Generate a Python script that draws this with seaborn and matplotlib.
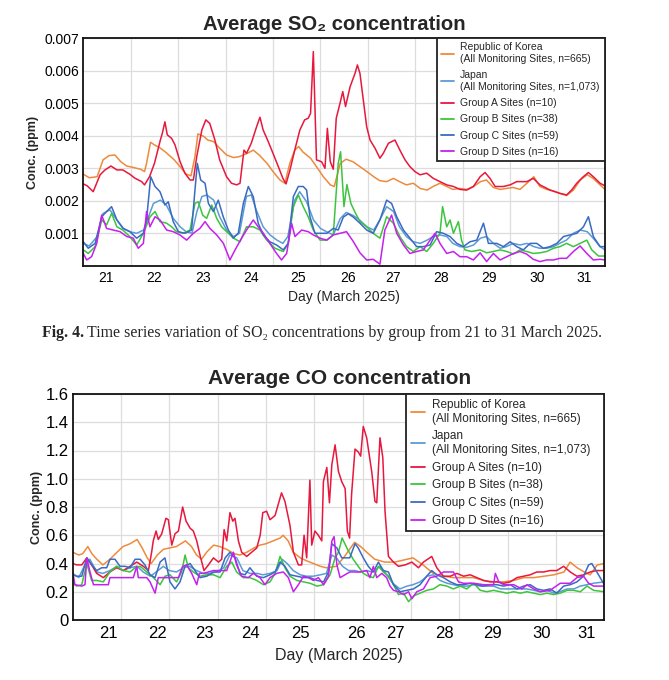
import matplotlib
matplotlib.use("Agg")
import matplotlib.pyplot as plt
import seaborn as sns

# ---- labels / categories ----
series_names = [
    "Republic of Korea\n(All Monitoring Sites, n=665)",
    "Japan\n(All Monitoring Sites, n=1,073)",
    "Group A Sites (n=10)",
    "Group B Sites (n=38)",
    "Group C Sites (n=59)",
    "Group D Sites (n=16)",
]
series_colors = ["#EE8A3C", "#5B9BD5", "#E8173D", "#3DC43D", "#3A6BC2", "#C520EE"]
day_labels = [str(d) for d in range(21, 32)]
day_bounds = [24 * i for i in range(1, 11)]          # midnight grid lines (hours since 21 Mar 00h)
so2_label_hours = [11.5, 36, 60.5, 85, 108.5, 134, 156.5, 181, 205.5, 229.5, 253.5]
co_label_hours = [17.5, 42, 65.5, 88.5, 113, 141, 160.5, 184.5, 208.5, 233, 255]

# ---- SO2 (ppm), (hour, value) ----
so2_korea = [(0, 0.00282), (3, 0.00271), (7, 0.00274), (10, 0.00326), (13, 0.00339), (16, 0.00341), (19, 0.00320),
             (22, 0.00307), (25, 0.00303), (29, 0.00297), (31, 0.00290), (32, 0.00315), (34, 0.00380), (36, 0.00372),
             (39, 0.00362), (42, 0.00348), (46, 0.00326), (49, 0.00305), (52, 0.00282), (54.5, 0.00277), (56.5, 0.00336),
             (58, 0.00406), (61, 0.00398), (63, 0.00387), (66, 0.00382), (69, 0.00362), (72.5, 0.00341), (76, 0.00333),
             (79, 0.00336), (83, 0.00346), (86, 0.00356), (89, 0.00341), (93, 0.00315), (96, 0.00290), (99.5, 0.00264),
             (102, 0.00254), (104.5, 0.00315), (107, 0.00356), (109, 0.00367), (111, 0.00351), (115, 0.00331),
             (118, 0.00305), (121.5, 0.00274), (125, 0.00249), (127, 0.00244), (130, 0.00315), (133, 0.00328),
             (136.5, 0.00320), (140, 0.00305), (143.5, 0.00290), (147, 0.00274), (150, 0.00262), (153.5, 0.00259),
             (157, 0.00269), (160, 0.00259), (163.5, 0.00249), (167, 0.00254), (170.5, 0.00238), (174, 0.00233),
             (177, 0.00244), (180.5, 0.00254), (184, 0.00244), (187, 0.00235), (190.5, 0.00238), (194, 0.00235),
             (197.5, 0.00244), (201, 0.00259), (204, 0.00264), (207.5, 0.00241), (211, 0.00235), (214, 0.00238),
             (217.5, 0.00241), (221, 0.00235), (224.5, 0.00254), (228, 0.00274), (231, 0.00244), (234.5, 0.00235),
             (238, 0.00230), (241, 0.00223), (244.5, 0.00216), (248, 0.00233), (251.5, 0.00264), (255, 0.00280),
             (258, 0.00269), (261.5, 0.00249), (264, 0.00235)]
so2_japan = [(0, 0.00069), (3, 0.00061), (7, 0.00090), (10, 0.00161), (13.5, 0.00172), (17, 0.00141), (20, 0.00115),
             (23.5, 0.00105), (27, 0.00100), (30.5, 0.00110), (33, 0.00151), (35.5, 0.00192), (39, 0.00202),
             (42, 0.00187), (45.5, 0.00146), (49, 0.00120), (52, 0.00105), (55, 0.00100), (57.5, 0.00167),
             (60, 0.00213), (62.5, 0.00218), (66, 0.00202), (69, 0.00151), (72.5, 0.00110), (76, 0.00090),
             (79, 0.00100), (82.5, 0.00213), (85, 0.00218), (87.5, 0.00172), (91, 0.00120), (94.5, 0.00095),
             (98, 0.00079), (101, 0.00069), (103.5, 0.00090), (107, 0.00202), (109.5, 0.00228), (113, 0.00197),
             (116.5, 0.00141), (120, 0.00115), (123, 0.00105), (126.5, 0.00095), (130, 0.00145), (133, 0.00164),
             (136.5, 0.00155), (140, 0.00140), (143.5, 0.00120), (147, 0.00110), (150, 0.00141), (153.5, 0.00182),
             (157, 0.00167), (160, 0.00120), (163.5, 0.00090), (167, 0.00074), (170.5, 0.00069), (174, 0.00079),
             (177, 0.00090), (180.5, 0.00095), (184, 0.00090), (187, 0.00069), (190.5, 0.00059), (194, 0.00057),
             (197.5, 0.00064), (201, 0.00085), (204, 0.00090), (207.5, 0.00069), (211, 0.00054), (214, 0.00059),
             (217.5, 0.00069), (221, 0.00064), (224.5, 0.00069), (228, 0.00059), (231, 0.00054), (234.5, 0.00054),
             (238, 0.00059), (241, 0.00069), (244.5, 0.00079), (248, 0.00100), (251.5, 0.00110), (255, 0.00105),
             (258, 0.00085), (261.5, 0.00059), (264, 0.00049)]
so2_group_a = [(0, 0.00252), (2, 0.00246), (5, 0.00228), (8.5, 0.00280), (11, 0.00295), (14, 0.00307), (17, 0.00295),
               (20, 0.00295), (23.5, 0.00282), (26, 0.00270), (29.5, 0.00259), (31, 0.00249), (33.5, 0.00274),
               (36, 0.00315), (39, 0.00387), (40, 0.00408), (41.3, 0.00443), (42.5, 0.00403), (44.7, 0.00392),
               (46.4, 0.00372), (49, 0.00320), (51.4, 0.00285), (54, 0.00264), (55.7, 0.00264), (57.4, 0.00336),
               (60, 0.00418), (62, 0.00449), (64, 0.00438), (66.6, 0.00387), (69, 0.00326), (72.5, 0.00274),
               (75, 0.00254), (77.6, 0.00249), (79.3, 0.00254), (81.3, 0.00356), (82.6, 0.00346), (85, 0.00377),
               (87.7, 0.00428), (89.4, 0.00457), (91, 0.00418), (93.6, 0.00382), (96, 0.00346), (98.7, 0.00305),
               (101, 0.00269), (102.6, 0.00252), (104.6, 0.00295), (107, 0.00356), (109.6, 0.00418), (112, 0.00449),
               (113.8, 0.00454), (115, 0.00469), (116.4, 0.00659), (118, 0.00326), (120.6, 0.00320), (122.3, 0.00300),
               (123.5, 0.00423), (125, 0.00320), (126.5, 0.00297), (128, 0.00454), (129.9, 0.00500), (131.3, 0.00536),
               (132.7, 0.00490), (135, 0.00551), (137.5, 0.00592), (138.7, 0.00618), (140, 0.00592), (141.7, 0.00510),
               (143.4, 0.00428), (145.1, 0.00387), (147.6, 0.00362), (150.1, 0.00331), (151.8, 0.00346),
               (154.4, 0.00377), (157.7, 0.00387), (160.2, 0.00356), (162.8, 0.00326), (165.3, 0.00305),
               (167.8, 0.00290), (170.4, 0.00280), (173.8, 0.00285), (177.1, 0.00269), (180.5, 0.00259),
               (183.9, 0.00249), (187.3, 0.00244), (190.6, 0.00235), (194, 0.00233), (197.4, 0.00244),
               (200.8, 0.00274), (203.3, 0.00287), (205.8, 0.00269), (208.4, 0.00244), (212.6, 0.00244),
               (216, 0.00249), (219.3, 0.00259), (224.4, 0.00259), (227.7, 0.00269), (231.1, 0.00249),
               (236.2, 0.00233), (241.2, 0.00223), (244.6, 0.00218), (247.1, 0.00233), (249.7, 0.00254),
               (253, 0.00274), (255.6, 0.00287), (258.1, 0.00274), (261.5, 0.00254), (264, 0.00246)]
so2_group_b = [(0, 0.00049), (2.5, 0.00038), (6, 0.00059), (9.3, 0.00141), (11.8, 0.00126), (14.3, 0.00161),
               (17, 0.00120), (20, 0.00110), (23.5, 0.00090), (27, 0.00064), (30.4, 0.00100), (33.8, 0.00151),
               (36.3, 0.00167), (38.8, 0.00136), (42.2, 0.00131), (44.7, 0.00120), (47.2, 0.00105), (50.6, 0.00100),
               (54, 0.00110), (56.5, 0.00192), (58.2, 0.00197), (60.4, 0.00156), (62.4, 0.00146), (65, 0.00187),
               (67.5, 0.00146), (70, 0.00120), (73.4, 0.00100), (76, 0.00085), (79.3, 0.00074), (82.6, 0.00120),
               (86, 0.00120), (89.4, 0.00110), (92.8, 0.00079), (97, 0.00054), (101.2, 0.00044), (103.7, 0.00069),
               (106.3, 0.00182), (108.8, 0.00218), (111.3, 0.00182), (113.8, 0.00151), (116.4, 0.00110),
               (119.8, 0.00079), (123.2, 0.00079), (126.5, 0.00095), (129, 0.00315), (130.2, 0.00351),
               (131.9, 0.00182), (133.4, 0.00250), (135.4, 0.00192), (137.9, 0.00160), (140, 0.00136),
               (143.4, 0.00120), (146.7, 0.00100), (150.1, 0.00085), (153.5, 0.00151), (156.9, 0.00131),
               (160.2, 0.00090), (163.6, 0.00059), (167, 0.00044), (170.4, 0.00059), (173.8, 0.00044),
               (177.1, 0.00069), (180.5, 0.00100), (181.8, 0.00182), (183.9, 0.00120), (185.6, 0.00141),
               (187.3, 0.00100), (189.8, 0.00136), (191.4, 0.00079), (193.1, 0.00049), (196.5, 0.00044),
               (200.8, 0.00049), (204.1, 0.00040), (207.5, 0.00044), (210.9, 0.00049), (214.3, 0.00044),
               (217.7, 0.00036), (221, 0.00049), (224.4, 0.00044), (227.7, 0.00038), (231.1, 0.00040),
               (234.5, 0.00044), (237.9, 0.00054), (241.2, 0.00059), (244.6, 0.00069), (248, 0.00059),
               (251.4, 0.00069), (254.8, 0.00079), (257.3, 0.00049), (260.7, 0.00030), (264, 0.00030)]
so2_group_c = [(0, 0.00074), (2.5, 0.00054), (6, 0.00069), (9.3, 0.00151), (11.8, 0.00167), (14.3, 0.00182),
               (17, 0.00141), (20.3, 0.00115), (23.6, 0.00105), (27, 0.00085), (30.4, 0.00100), (32, 0.00141),
               (34.1, 0.00274), (36.3, 0.00244), (38.8, 0.00228), (41.3, 0.00187), (43, 0.00197), (45.5, 0.00136),
               (48.1, 0.00105), (51.4, 0.00100), (54.8, 0.00110), (56.5, 0.00233), (57.7, 0.00315), (59.4, 0.00264),
               (61.6, 0.00254), (63.3, 0.00192), (65.8, 0.00167), (68.3, 0.00202), (70.8, 0.00151), (73.4, 0.00110),
               (75.9, 0.00085), (78.4, 0.00100), (81, 0.00192), (83.5, 0.00244), (86, 0.00213), (88.5, 0.00131),
               (91.1, 0.00095), (94.4, 0.00074), (97.8, 0.00064), (101.2, 0.00049), (103.7, 0.00069),
               (106.3, 0.00213), (108.8, 0.00244), (111.3, 0.00244), (113, 0.00233), (114.7, 0.00151),
               (117.2, 0.00100), (119.8, 0.00100), (123.2, 0.00100), (126.5, 0.00115), (129, 0.00110),
               (131.6, 0.00150), (134.1, 0.00160), (136.6, 0.00150), (140, 0.00131), (143.4, 0.00110),
               (146.7, 0.00100), (150.1, 0.00141), (153.5, 0.00202), (156, 0.00192), (158.6, 0.00151),
               (162, 0.00110), (165.3, 0.00085), (168.7, 0.00059), (172.1, 0.00059), (175.5, 0.00064),
               (178.8, 0.00105), (182.2, 0.00100), (185.6, 0.00090), (189, 0.00069), (192.3, 0.00059),
               (195.7, 0.00074), (199.1, 0.00079), (202.5, 0.00131), (205, 0.00069), (209.2, 0.00069),
               (212.6, 0.00059), (216, 0.00074), (219.3, 0.00059), (222.7, 0.00049), (226.1, 0.00069),
               (229.5, 0.00069), (232.8, 0.00054), (236.2, 0.00059), (239.6, 0.00069), (243, 0.00090),
               (246.3, 0.00095), (249.7, 0.00100), (253.1, 0.00120), (255.6, 0.00151), (258.1, 0.00090),
               (261.5, 0.00059), (264, 0.00059)]
so2_group_d = [(0, 0.00038), (1.7, 0.00018), (4.2, 0.00028), (6.8, 0.00069), (9.3, 0.00156), (11.8, 0.00115),
               (15.2, 0.00110), (18.6, 0.00105), (22, 0.00090), (25.3, 0.00085), (27.8, 0.00054), (30.4, 0.00069),
               (32, 0.00167), (33.7, 0.00120), (36.3, 0.00151), (38.8, 0.00141), (42.2, 0.00110), (45.5, 0.00105),
               (48.9, 0.00095), (52.3, 0.00079), (55.7, 0.00100), (59, 0.00115), (61.6, 0.00136), (64.1, 0.00115),
               (67.5, 0.00095), (70.9, 0.00069), (74.2, 0.00018), (76.8, 0.00049), (80.1, 0.00085), (82.6, 0.00110),
               (86, 0.00141), (88.5, 0.00120), (91.1, 0.00100), (94.4, 0.00069), (97.8, 0.00038), (100.3, 0.00018),
               (102.9, 0.00038), (105.4, 0.00131), (107.1, 0.00090), (110.5, 0.00110), (113.8, 0.00105),
               (116.4, 0.00095), (119.8, 0.00085), (123.2, 0.00079), (126.5, 0.00095), (129.9, 0.00100),
               (133.2, 0.00105), (136.6, 0.00075), (140, 0.00040), (143.4, 0.00018), (146.7, 0.00020),
               (150.1, 0.00005), (152.6, 0.00110), (156, 0.00156), (158.6, 0.00100), (162, 0.00064),
               (165.3, 0.00038), (168.7, 0.00044), (172.1, 0.00049), (175.5, 0.00079), (178, 0.00100),
               (180.5, 0.00069), (183.9, 0.00038), (187.3, 0.00044), (190.6, 0.00028), (194, 0.00028),
               (197.4, 0.00018), (200.8, 0.00040), (204.1, 0.00013), (207.5, 0.00038), (210.9, 0.00018),
               (214.3, 0.00028), (217.7, 0.00038), (221, 0.00044), (224.4, 0.00036), (227.7, 0.00020),
               (231.1, 0.00013), (234.5, 0.00018), (237.9, 0.00018), (241.2, 0.00023), (244.6, 0.00023),
               (248, 0.00044), (251.4, 0.00061), (254.8, 0.00038), (258.1, 0.00018), (261.5, 0.00020),
               (264, 0.00018)]

# ---- CO (ppm), (hour, value) ----
co_korea = [(0, 0.48), (3, 0.46), (5, 0.47), (7.5, 0.52), (9.5, 0.47), (12, 0.43), (15, 0.39), (18.5, 0.43),
            (22, 0.48), (25, 0.52), (28.5, 0.54), (32, 0.57), (34.5, 0.51), (37, 0.44), (39, 0.40), (42, 0.46),
            (45, 0.50), (48, 0.51), (51.5, 0.52), (56, 0.56), (59, 0.52), (61.5, 0.46), (64, 0.43), (66.5, 0.48),
            (70, 0.53), (73, 0.52), (76.5, 0.50), (80, 0.47), (83, 0.46), (86.5, 0.48), (90, 0.51), (93, 0.53),
            (96, 0.54), (99.5, 0.56), (103, 0.58), (104.5, 0.60), (107, 0.56), (109.5, 0.48), (113, 0.44),
            (116, 0.42), (119.5, 0.40), (123, 0.38), (126, 0.37), (131, 0.38), (135, 0.45), (140, 0.55),
            (143, 0.52), (146, 0.48), (150, 0.43), (155, 0.41), (160, 0.41), (166, 0.43), (169, 0.44), (174, 0.39),
            (179, 0.33), (184, 0.31), (189, 0.30), (194, 0.30), (199, 0.30), (204, 0.28), (209, 0.27), (214, 0.27),
            (219, 0.28), (224, 0.30), (229, 0.30), (234, 0.31), (239, 0.32), (244, 0.34), (247, 0.41),
            (250.5, 0.37), (254, 0.34), (257, 0.32), (260.5, 0.39), (264, 0.40)]
co_japan = [(0, 0.33), (3, 0.30), (6, 0.39), (8.5, 0.43), (12, 0.34), (15, 0.33), (18.5, 0.35), (22, 0.38),
            (25, 0.35), (28.5, 0.37), (32, 0.38), (35, 0.34), (38.5, 0.31), (41.5, 0.34), (45, 0.38), (48, 0.35),
            (51.5, 0.34), (55, 0.37), (58, 0.38), (61.5, 0.35), (65, 0.33), (68, 0.33), (71.5, 0.34), (75, 0.37),
            (78, 0.46), (81.5, 0.44), (84.5, 0.35), (88, 0.33), (91.5, 0.33), (94.5, 0.32), (98, 0.33),
            (101.5, 0.35), (104, 0.43), (106.5, 0.40), (109.5, 0.35), (113, 0.32), (116, 0.31), (119.5, 0.31),
            (123, 0.32), (126, 0.33), (128.7, 0.46), (131, 0.44), (134, 0.38), (137, 0.35), (140, 0.35),
            (143, 0.34), (146, 0.35), (149, 0.34), (152.5, 0.38), (156, 0.32), (159, 0.26), (162.5, 0.22),
            (166, 0.24), (169, 0.25), (172.5, 0.27), (176, 0.31), (179, 0.32), (182.5, 0.28), (186, 0.26),
            (189, 0.25), (192.5, 0.24), (196, 0.24), (199, 0.25), (202.5, 0.24), (206, 0.24), (209, 0.24),
            (212.5, 0.22), (216, 0.22), (219, 0.22), (222.5, 0.22), (225.5, 0.22), (229, 0.21), (232, 0.20),
            (235.5, 0.21), (239, 0.19), (242, 0.20), (245.5, 0.22), (249, 0.22), (252, 0.24), (255.5, 0.25),
            (258.5, 0.26), (264, 0.27)]
co_group_a = [(0, 0.40), (2, 0.39), (4.5, 0.39), (7, 0.44), (9.4, 0.39), (11.9, 0.33), (15.2, 0.30), (18.5, 0.34),
              (21.8, 0.37), (25.1, 0.35), (28.5, 0.38), (31.8, 0.41), (35.1, 0.38), (37.6, 0.35), (39.2, 0.48),
              (40, 0.56), (41.4, 0.63), (42.5, 0.57), (44.2, 0.61), (46.3, 0.72), (47.5, 0.71), (49.2, 0.53),
              (50.8, 0.61), (52.5, 0.63), (54.6, 0.80), (56.3, 0.70), (58.3, 0.65), (59.9, 0.63), (61.6, 0.56),
              (63.2, 0.46), (65.2, 0.35), (67.4, 0.39), (69.9, 0.44), (72.4, 0.41), (74, 0.43), (75.2, 0.64),
              (76.5, 0.56), (78.1, 0.76), (79.5, 0.70), (80.6, 0.72), (82.3, 0.56), (83.9, 0.48), (86.4, 0.45),
              (88.9, 0.48), (91.4, 0.51), (93.1, 0.60), (94.4, 0.76), (96.3, 0.77), (98, 0.71), (100.5, 0.74),
              (102.1, 0.82), (103.7, 0.90), (105.4, 0.84), (107.9, 0.67), (109.6, 0.48), (112.1, 0.39),
              (113.7, 0.39), (114.9, 0.60), (116.2, 0.44), (117.8, 0.99), (118.7, 0.53), (120.3, 0.63),
              (122, 0.60), (123.7, 0.56), (124.5, 0.98), (126.2, 1.08), (127.5, 0.83), (128.7, 1.10),
              (130.3, 1.24), (132, 1.05), (133.6, 0.98), (135.3, 0.93), (136.4, 0.63), (137.5, 0.58),
              (138.5, 0.89), (140.2, 1.21), (141.8, 1.19), (143, 1.16), (144.3, 1.37), (146, 1.29), (148.5, 1.05),
              (150.1, 0.84), (151, 0.83), (152.6, 1.29), (154, 1.15), (155.1, 0.77), (156.8, 0.45), (159.3, 0.41),
              (161.8, 0.38), (165.1, 0.39), (168.4, 0.41), (171.7, 0.37), (174.2, 0.41), (178.3, 0.45),
              (180.8, 0.37), (184.1, 0.31), (187.5, 0.31), (190.8, 0.33), (194.1, 0.31), (197.4, 0.32),
              (200.7, 0.30), (204, 0.28), (207.3, 0.27), (210.6, 0.27), (214, 0.26), (217.3, 0.27), (220.6, 0.30),
              (223.9, 0.31), (227.2, 0.32), (230.5, 0.34), (233.8, 0.34), (237.1, 0.35), (240.4, 0.35),
              (243.8, 0.38), (247.1, 0.34), (250.4, 0.31), (253.7, 0.32), (257, 0.34), (260.3, 0.35), (264, 0.35)]
co_group_b = [(0, 0.26), (2, 0.24), (4.5, 0.25), (7, 0.40), (9.4, 0.28), (11.9, 0.28), (15.2, 0.27), (18.5, 0.34),
              (21.8, 0.38), (25.1, 0.35), (28.5, 0.34), (31, 0.37), (33.5, 0.38), (36.8, 0.34), (40.1, 0.30),
              (43.4, 0.25), (45.8, 0.31), (48.3, 0.32), (51.6, 0.27), (54.1, 0.34), (55.8, 0.46), (57.4, 0.37),
              (59.9, 0.34), (63.2, 0.31), (66.6, 0.32), (69.9, 0.32), (73.2, 0.30), (76.5, 0.38), (79, 0.41),
              (81.4, 0.34), (84.7, 0.30), (88, 0.30), (91.4, 0.28), (94.7, 0.25), (98, 0.27), (100.5, 0.33),
              (103, 0.45), (105.4, 0.37), (107.9, 0.31), (111.3, 0.28), (114.6, 0.27), (117.9, 0.26),
              (121.3, 0.24), (124.6, 0.25), (127.8, 0.32), (130.3, 0.44), (132, 0.48), (133.8, 0.58),
              (136.5, 0.50), (139.3, 0.43), (141.8, 0.38), (144.3, 0.33), (146.8, 0.31), (149.3, 0.30),
              (151.8, 0.38), (154.3, 0.34), (156.8, 0.31), (159.3, 0.25), (161.8, 0.18), (164.3, 0.19),
              (166.8, 0.13), (169.2, 0.17), (172.5, 0.19), (175.8, 0.21), (179.1, 0.22), (182.4, 0.25),
              (185.8, 0.24), (189.1, 0.22), (192.4, 0.24), (195.7, 0.22), (199.1, 0.26), (202.4, 0.21),
              (205.7, 0.20), (209, 0.21), (212.3, 0.20), (215.6, 0.19), (219, 0.20), (222.3, 0.19), (225.6, 0.20),
              (228.9, 0.19), (232.2, 0.18), (235.5, 0.19), (238.8, 0.18), (242.1, 0.19), (245.5, 0.21),
              (248.8, 0.21), (252.1, 0.20), (255.4, 0.24), (258.7, 0.21), (264, 0.20)]
co_group_c = [(0, 0.32), (2, 0.31), (4.5, 0.31), (7, 0.44), (9.4, 0.39), (11.9, 0.35), (14.4, 0.37), (16.9, 0.37),
              (18.5, 0.43), (21, 0.43), (23.5, 0.38), (26, 0.38), (28.5, 0.37), (31, 0.43), (33.5, 0.43),
              (35.9, 0.39), (38.4, 0.32), (40.9, 0.30), (43.4, 0.41), (45.8, 0.44), (48.3, 0.27), (50.8, 0.22),
              (53.3, 0.27), (55.8, 0.38), (58.3, 0.40), (60.7, 0.35), (63.2, 0.30), (66.6, 0.31), (69.9, 0.34),
              (73.2, 0.34), (75.7, 0.44), (78.1, 0.48), (80.6, 0.44), (83.1, 0.33), (85.6, 0.32), (88, 0.37),
              (91.4, 0.31), (94.7, 0.30), (98, 0.32), (100.5, 0.34), (103, 0.41), (105.4, 0.38), (107.9, 0.32),
              (111.3, 0.31), (114.6, 0.30), (117.9, 0.30), (121.3, 0.28), (124.6, 0.27), (127, 0.34),
              (128.7, 0.54), (131.2, 0.51), (133.6, 0.44), (137.6, 0.44), (140.2, 0.54), (141.8, 0.51),
              (144.3, 0.44), (146.8, 0.38), (149.3, 0.34), (151.8, 0.41), (154.3, 0.35), (156.8, 0.34),
              (159.3, 0.25), (162.6, 0.20), (165.9, 0.21), (169.2, 0.22), (172.5, 0.25), (175.8, 0.31),
              (178.3, 0.35), (180.8, 0.32), (184.1, 0.30), (187.5, 0.27), (190.8, 0.25), (194.1, 0.25),
              (197.4, 0.26), (200.7, 0.25), (204, 0.24), (207.3, 0.25), (210.6, 0.25), (214, 0.24), (217.3, 0.25),
              (220.6, 0.22), (223.9, 0.24), (227.2, 0.25), (230.5, 0.22), (233.8, 0.21), (237.1, 0.22),
              (240.4, 0.19), (243.8, 0.24), (247.1, 0.25), (250.4, 0.27), (253.7, 0.31), (256.2, 0.39),
              (257.8, 0.40), (260.3, 0.34), (264, 0.25)]
co_group_d = [(0, 0.34), (1.1, 0.25), (4.5, 0.24), (6.1, 0.25), (7, 0.44), (8.6, 0.34), (10.3, 0.25), (17.7, 0.25),
              (18.5, 0.30), (30.1, 0.30), (31.8, 0.38), (32.6, 0.30), (36.8, 0.30), (38.4, 0.27), (40.9, 0.19),
              (42.5, 0.30), (52.5, 0.30), (54.6, 0.38), (56.6, 0.39), (59.1, 0.33), (61.6, 0.25), (62.9, 0.33),
              (64.9, 0.33), (69.9, 0.35), (76.5, 0.35), (79.8, 0.48), (81.4, 0.39), (83.9, 0.31), (87.2, 0.30),
              (89.7, 0.33), (93, 0.30), (95.5, 0.25), (98, 0.30), (101.3, 0.33), (104.6, 0.34), (107.1, 0.30),
              (109.6, 0.20), (112.1, 0.25), (114.6, 0.31), (117.1, 0.30), (119.5, 0.28), (122, 0.30),
              (124.6, 0.25), (127, 0.31), (128.7, 0.56), (129.8, 0.59), (131.2, 0.39), (132.8, 0.30),
              (137.6, 0.34), (142.7, 0.34), (146, 0.35), (147.6, 0.30), (149.3, 0.38), (151, 0.30), (153.5, 0.33),
              (155.9, 0.30), (157.6, 0.24), (159.3, 0.21), (161.8, 0.20), (164.3, 0.18), (166.8, 0.20),
              (168.4, 0.15), (170.9, 0.20), (174.2, 0.22), (177.5, 0.30), (180.8, 0.31), (184.1, 0.34),
              (189.1, 0.34), (191.6, 0.27), (194.1, 0.26), (199.1, 0.26), (204.1, 0.25), (209, 0.25),
              (209.9, 0.33), (211.6, 0.27), (214, 0.25), (219, 0.25), (223.1, 0.22), (225.6, 0.25), (228.9, 0.22),
              (232.2, 0.20), (237.1, 0.21), (242.1, 0.26), (247.1, 0.26), (250.4, 0.30), (253.7, 0.31),
              (256.2, 0.26), (258.7, 0.24), (264, 0.24)]

so2_series = [so2_korea, so2_japan, so2_group_a, so2_group_b, so2_group_c, so2_group_d]
co_series = [co_korea, co_japan, co_group_a, co_group_b, co_group_c, co_group_d]

so2_yticks = [0.001, 0.002, 0.003, 0.004, 0.005, 0.006, 0.007]
so2_ylabels = ["0.001", "0.002", "0.003", "0.004", "0.005", "0.006", "0.007"]
co_yticks = [0, 0.2, 0.4, 0.6, 0.8, 1.0, 1.2, 1.4, 1.6]
co_ylabels = ["0", "0.2", "0.4", "0.6", "0.8", "1.0", "1.2", "1.4", "1.6"]

sns.set_theme(style="white")
sans = ["Liberation Sans", "DejaVu Sans"]
serif = ["Liberation Serif", "DejaVu Serif"]
plt.rcParams["font.family"] = sans

W, H = 669, 680
fig = plt.figure(figsize=(W / 100, H / 100), dpi=100)
ax1 = fig.add_axes([83.3 / W, 1 - 265.8 / H, 521.7 / W, 227.5 / H])
ax2 = fig.add_axes([72.7 / W, 1 - 620 / H, 531.6 / W, 226 / H])


def draw_panel(ax, series, ylim, yticks, ylabels, label_hours, tick_fs, xlab_fs, xlab_pad,
               leg_fs, leg_space, leg_x0, ylab_x):
    for data, name, col in zip(series, series_names, series_colors):
        hrs = [p[0] for p in data]
        vals = [p[1] for p in data]
        sns.lineplot(x=hrs, y=vals, color=col, linewidth=1.1, label=name, ax=ax, sort=False)
    ax.set_xlim(0, 264)
    ax.set_ylim(*ylim)
    ax.set_xticks(label_hours, day_labels)
    ax.set_xticks(day_bounds, minor=True)
    ax.set_yticks(yticks, ylabels)
    ax.grid(False)
    ax.grid(True, which="minor", axis="x", color="#dddddd", lw=0.9)
    ax.grid(True, which="major", axis="y", color="#dddddd", lw=0.9)
    ax.set_axisbelow(True)
    ax.tick_params(which="both", length=0, labelsize=tick_fs, colors="black")
    ax.tick_params(axis="x", pad=4)
    ax.tick_params(axis="y", pad=3)
    for s in ax.spines.values():
        s.set_color("#111111")
        s.set_linewidth(1.3)
    ax.set_xlabel("Day (March 2025)", fontsize=xlab_fs, labelpad=xlab_pad)
    ax.set_ylabel("Conc. (ppm)", fontsize=9, fontweight="bold")
    ax.yaxis.set_label_coords(ylab_x, 0.5)
    leg = ax.legend(loc="upper right", bbox_to_anchor=(leg_x0, 0, 1 - leg_x0, 1), mode="expand",
                    borderaxespad=0, fontsize=leg_fs,
                    frameon=True, fancybox=False, framealpha=1, edgecolor="#222222",
                    handlelength=1.2, handletextpad=0.6, borderpad=0.4, labelspacing=leg_space)
    leg.get_frame().set_linewidth(1.3)
    for t in leg.get_texts():
        t.set_multialignment("left")
    for ln in leg.get_lines():
        ln.set_linewidth(1.3)


draw_panel(ax1, so2_series, (0, 0.007), so2_yticks, so2_ylabels, so2_label_hours,
           10, 10, 3, 7.5, 0.6, (437 - 83.3) / 521.7, -0.085)
draw_panel(ax2, co_series, (0, 1.6), co_yticks, co_ylabels, co_label_hours,
           12, 11.5, 5.5, 8.5, 0.48, (406 - 72.7) / 531.6, -0.055)

fig.text(0.5, 1 - 30 / H, "Average SO\u2082 concentration", ha="center", va="baseline",
         fontsize=14.6, fontweight="bold", family=sans)
fig.text(340 / W, 1 - 384 / H, "Average CO concentration", ha="center", va="baseline",
         fontsize=15, fontweight="bold", family=sans)

# caption: bold "Fig. 4." followed by regular text
cap_y = 1 - 337 / H
t1 = fig.text(42 / W, cap_y, "Fig. 4.", fontsize=11.4, fontweight="bold", family=serif, va="baseline")
renderer = fig.canvas.get_renderer()
bb = t1.get_window_extent(renderer=renderer)
fig.text((bb.x1 + 3) / W, cap_y,
         "Time series variation of SO\u2082 concentrations by group from 21 to 31 March 2025.",
         fontsize=11.4, family=serif, va="baseline")

fig.savefig("out.png", dpi=100)
